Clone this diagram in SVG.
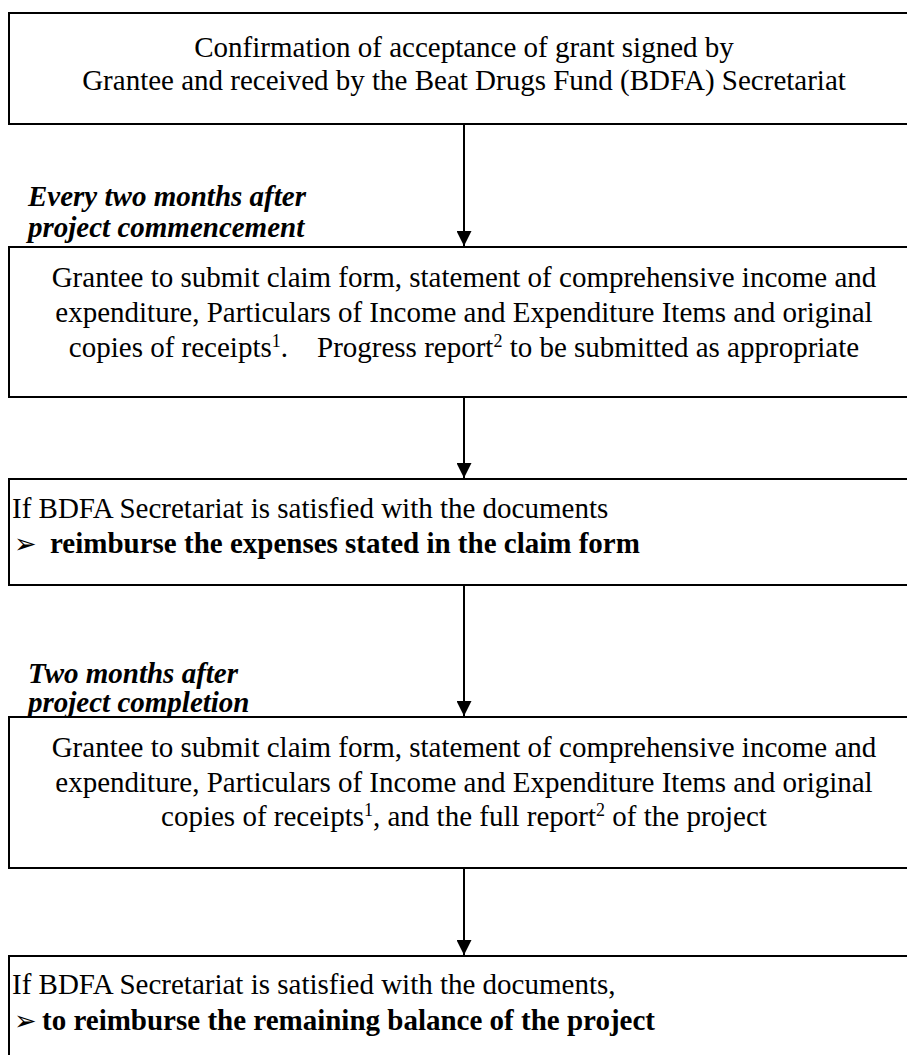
<svg xmlns="http://www.w3.org/2000/svg" width="907" height="1055" viewBox="0 0 907 1055">
<style>
.box{fill:#fff;stroke:#000;stroke-width:2}
.t{font-family:"Liberation Serif","Times New Roman",serif;font-size:29px;fill:#000}
.c{text-anchor:middle}
.lbl{font-family:"Liberation Serif","Times New Roman",serif;font-size:29px;font-weight:bold;font-style:italic;fill:#000}
.b{font-weight:bold}
.bul{font-family:"DejaVu Sans",sans-serif;font-size:27px}
.sup{font-size:18px}
.conn{stroke:#000;stroke-width:2;fill:none}
</style>
<defs>
<marker id="ah" viewBox="0 0 10 10" refX="10" refY="5" markerWidth="7.5" markerHeight="7.5" markerUnits="strokeWidth" orient="auto">
<path d="M0,0 L10,5 L0,10 z" fill="#000"/>
</marker>
</defs>
<rect width="907" height="1055" fill="#fff"/>
<g id="connectors">
<line class="conn" x1="464" y1="125" x2="464" y2="246" marker-end="url(#ah)"/>
<line class="conn" x1="464" y1="398" x2="464" y2="478" marker-end="url(#ah)"/>
<line class="conn" x1="464" y1="586" x2="464" y2="716" marker-end="url(#ah)"/>
<line class="conn" x1="464" y1="869" x2="464" y2="955" marker-end="url(#ah)"/>
</g>
<g id="node1">
<rect class="box" x="9" y="13" width="910" height="111"/>
<text class="t c" x="464" y="57">Confirmation of acceptance of grant signed by</text>
<text class="t c" x="464" y="90">Grantee and received by the Beat Drugs Fund (BDFA) Secretariat</text>
</g>
<g id="label1">
<text class="lbl" x="28" y="206">Every two months after</text>
<text class="lbl" x="28" y="237">project commencement</text>
</g>
<g id="node2">
<rect class="box" x="9" y="247" width="910" height="150"/>
<text class="t c" x="464" y="287">Grantee to submit claim form, statement of comprehensive income and</text>
<text class="t c" x="464" y="322">expenditure, Particulars of Income and Expenditure Items and original</text>
<text class="t c" x="464" y="357" xml:space="preserve">copies of receipts<tspan class="sup" dy="-10">1</tspan><tspan dy="10">.    Progress report</tspan><tspan class="sup" dy="-10">2</tspan><tspan dy="10"> to be submitted as appropriate</tspan></text>
</g>
<g id="node3">
<rect class="box" x="9" y="479" width="910" height="106"/>
<text class="t" x="12" y="518">If BDFA Secretariat is satisfied with the documents</text>
<text class="t" x="14" y="553"><tspan class="bul">➢</tspan><tspan class="b" x="50">reimburse the expenses stated in the claim form</tspan></text>
</g>
<g id="label2">
<text class="lbl" x="28" y="683">Two months after</text>
<text class="lbl" x="28" y="712">project completion</text>
</g>
<g id="node4">
<rect class="box" x="9" y="717" width="910" height="151"/>
<text class="t c" x="464" y="757">Grantee to submit claim form, statement of comprehensive income and</text>
<text class="t c" x="464" y="792">expenditure, Particulars of Income and Expenditure Items and original</text>
<text class="t c" x="464" y="826">copies of receipts<tspan class="sup" dy="-10">1</tspan><tspan dy="10">, and the full report</tspan><tspan class="sup" dy="-10">2</tspan><tspan dy="10"> of the project</tspan></text>
</g>
<g id="node5">
<rect class="box" x="9" y="956" width="910" height="120"/>
<text class="t" x="12" y="994">If BDFA Secretariat is satisfied with the documents,</text>
<text class="t" x="14" y="1030"><tspan class="bul">➢</tspan><tspan class="b" x="42">to reimburse the remaining balance of the project</tspan></text>
</g>
</svg>
